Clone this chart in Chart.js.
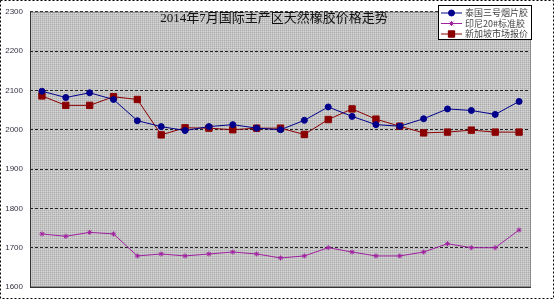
<!DOCTYPE html>
<html>
<head>
<meta charset="utf-8">
<script src="https://cdn.jsdelivr.net/npm/chart.js@4/dist/chart.umd.min.js"></script>
<style>
    html, body { margin: 0; padding: 0; background: #fff; }
    #wrap { width: 554px; height: 299px; }
</style>
</head>
<body>
<div id="wrap"><canvas id="myChart" width="554" height="299"></canvas></div>
<script>
"use strict";

// dati (luglio 2014)
const days = ["1", "2", "3", "4", "7", "8", "9", "10", "11", "14", "15",
    "16", "17", "18", "21", "22", "23", "24", "25", "28", "29"];
const thaiRSS3 = [2098, 2082, 2094, 2077, 2023, 2008, 1998, 2008, 2013, 2004, 2000,
    2024, 2058, 2034, 2013, 2009, 2028, 2053, 2049, 2039, 2072];
const indoSIR20 = [1735, 1729, 1739, 1735, 1679, 1684, 1679, 1684, 1689, 1684, 1674,
    1679, 1700, 1689, 1679, 1679, 1689, 1710, 1700, 1700, 1745];
const sgMarket = [2086, 2062, 2062, 2084, 2077, 1987, 2005, 2004, 2000, 2004, 2004,
    1988, 2026, 2053, 2027, 2009, 1992, 1994, 1999, 1994, 1994];
const yTicks = [1600, 1700, 1800, 1900, 2000, 2100, 2200, 2300];
const seriesNames = ["泰国三号烟片胶", "印尼20#标准胶", "新加坡市场报价"];
const title = "2014年7月国际主产区天然橡胶价格走势";

const colors = ["#00008b", "#a020a0", "#8b0000"];

//PATTERN SFONDO
function makePattern(ctx) {
    let c = document.createElement("canvas");
    c.width = 2;
    c.height = 2;
    let p = c.getContext("2d");
    p.fillStyle = "#c4c4c4";
    p.fillRect(0, 0, 2, 2);
    p.fillStyle = "#acacac";
    p.fillRect(0, 0, 1, 1);
    p.fillStyle = "#d4d4d4";
    p.fillRect(1, 1, 1, 1);
    return ctx.createPattern(c, "repeat");
}

const framePlugin = {
    id: "frame",
    beforeDraw(chart) {
        let ctx = chart.ctx, a = chart.chartArea;
        ctx.save();
        ctx.fillStyle = "#fff";
        ctx.fillRect(0, 0, chart.width, chart.height);
        ctx.fillStyle = makePattern(ctx);
        ctx.fillRect(a.left, a.top, a.right - a.left, a.bottom - a.top);
        ctx.restore();
    },
    beforeDatasetsDraw(chart) {
        let ctx = chart.ctx, a = chart.chartArea;
        ctx.save();
        ctx.lineWidth = 1;
        ctx.strokeStyle = "#8a8a8a";
        ctx.strokeRect(a.left + 0.5, a.top + 0.5, a.right - a.left - 1, a.bottom - a.top - 1);
        ctx.strokeStyle = "#333";
        ctx.beginPath();
        ctx.moveTo(a.left + 0.5, a.top);
        ctx.lineTo(a.left + 0.5, a.bottom + 0.5);
        ctx.lineTo(a.right, a.bottom + 0.5);
        ctx.stroke();
        // titolo dentro l'area
        ctx.fillStyle = "#111";
        ctx.font = '13px "Liberation Serif", "Noto Sans CJK SC", serif';
        ctx.textAlign = "center";
        ctx.textBaseline = "middle";
        ctx.fillText(title, 274, 19);
        ctx.restore();
    },
    afterDraw(chart) {
        let ctx = chart.ctx;
        ctx.save();
        // bordo esterno tratteggiato
        ctx.strokeStyle = "#000";
        ctx.lineWidth = 1;
        ctx.setLineDash([2, 2]);
        ctx.strokeRect(0.5, 0.5, chart.width - 1, chart.height - 1);
        ctx.setLineDash([]);
        // legenda
        let x = 438, y = 5, w = 94, h = 35;
        ctx.fillStyle = "#fff";
        ctx.fillRect(x, y, w, h);
        ctx.strokeStyle = "#000";
        ctx.strokeRect(x + 0.5, y + 0.5, w - 1, h - 1);
        ctx.font = '9px "Noto Sans CJK SC", sans-serif';
        ctx.textAlign = "left";
        ctx.textBaseline = "middle";
        for (let i = 0; i < chart.data.datasets.length; i++) {
            let ds = chart.data.datasets[i];
            let ry = y + 8 + i * 10.5;
            ctx.strokeStyle = ds.borderColor;
            ctx.lineWidth = 1;
            ctx.beginPath();
            ctx.moveTo(x + 3, ry);
            ctx.lineTo(x + 24, ry);
            ctx.stroke();
            Chart.helpers.drawPoint(ctx, {
                pointStyle: ds.pointStyle,
                radius: ds.pointRadius,
                borderWidth: 1
            }, x + 13.5, ry);
            ctx.fillStyle = ds.pointBackgroundColor;
            ctx.strokeStyle = ds.pointBorderColor;
            ctx.fill();
            ctx.fillStyle = "#444";
            ctx.fillText(ds.label, x + 27, ry);
        }
        ctx.restore();
    }
};

function makeDataset(label, data, color, style, radius) {
    return {
        label: label,
        data: data,
        borderColor: color,
        backgroundColor: color,
        pointBackgroundColor: color,
        pointBorderColor: color,
        pointStyle: style,
        pointRadius: radius,
        pointBorderWidth: 1,
        borderWidth: 1,
        tension: 0
    };
}

new Chart(document.getElementById("myChart"), {
    type: "line",
    data: {
        labels: days,
        datasets: [
            makeDataset(seriesNames[0], thaiRSS3, colors[0], "circle", 3),
            makeDataset(seriesNames[1], indoSIR20, colors[1], "star", 2.5),
            makeDataset(seriesNames[2], sgMarket, colors[2], "rect", 4.5)
        ]
    },
    options: {
        responsive: false,
        animation: false,
        devicePixelRatio: 1,
        layout: { padding: { top: 10, right: 23, bottom: 12, left: 0 } },
        plugins: {
            legend: { display: false },
            title: { display: false },
            tooltip: { enabled: false }
        },
        scales: {
            x: {
                display: false,
                offset: true
            },
            y: {
                min: 1600,
                max: 2300,
                afterBuildTicks: function (s) {
                    s.ticks = yTicks.map(v => ({ value: v }));
                },
                afterFit: function (s) {
                    s.width = 30;
                },
                border: { display: false, dash: [3, 2] },
                grid: {
                    color: "#222",
                    drawTicks: false
                },
                ticks: {
                    color: "#334",
                    padding: 7,
                    font: { family: "Liberation Sans", size: 8 },
                    callback: function (v) {
                        return String(v);
                    }
                }
            }
        }
    },
    plugins: [framePlugin]
});
</script>
</body>
</html>
